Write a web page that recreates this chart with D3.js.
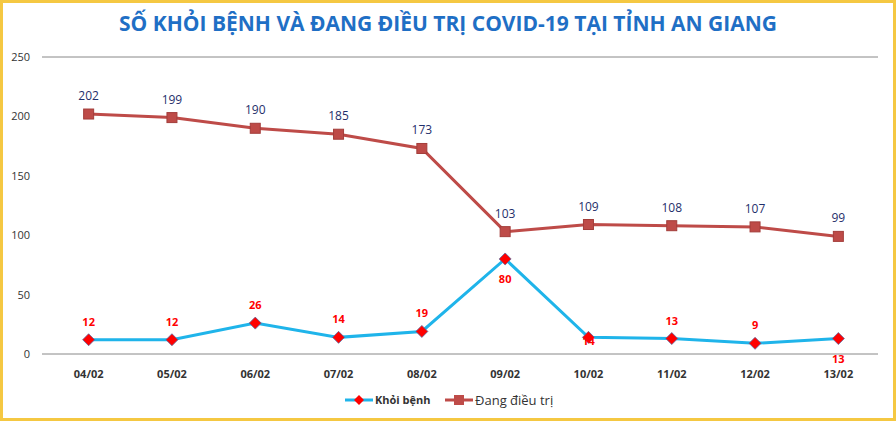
<!DOCTYPE html>
<html><head><meta charset="utf-8">
<script src="https://cdn.jsdelivr.net/npm/d3@7"></script>
<style>body{margin:0;background:#fff;font-family:"Open Sans",sans-serif;}</style>
</head><body><div id="chart"></div>
<script>
var dates = ["04/02","05/02","06/02","07/02","08/02","09/02","10/02","11/02","12/02","13/02"];
var khoiBenh = [12, 12, 26, 14, 19, 80, 14, 13, 9, 13];
var dangDieuTri = [202, 199, 190, 185, 173, 103, 109, 108, 107, 99];
var khoiLabelSide = ["up","up","up","up","up","down","down2","up","up","down"];
var yTicks = [0, 50, 100, 150, 200, 250];

var W = 896, H = 421;
var svg = d3.select("#chart").append("svg").attr("width", W).attr("height", H);

svg.append("rect").attr("x", 1.5).attr("y", 1.5).attr("width", W - 3).attr("height", H - 3)
    .attr("fill", "#fff").attr("stroke", "#f5c842").attr("stroke-width", 3);

svg.append("text").attr("x", 448).attr("y", 31).attr("text-anchor", "middle")
    .attr("font-family", "Liberation Sans Narrow, Open Sans, sans-serif")
    .attr("font-size", "21px").attr("font-weight", "bold").attr("fill", "#1f6fc5")
    .text("SỐ KHỎI BỆNH VÀ ĐANG ĐIỀU TRỊ COVID-19 TẠI TỈNH AN GIANG");

var x = d3.scaleBand().domain(dates).range([47, 880]);
var y = d3.scaleLinear().domain([0, 250]).range([354, 57]);
var cx = function(d, i){ return x(dates[i]) + x.bandwidth() / 2; };

svg.append("line").attr("x1", 42).attr("x2", 878).attr("y1", y(250)).attr("y2", y(250)).attr("stroke", "#888");
svg.append("line").attr("x1", 42).attr("x2", 878).attr("y1", y(0)).attr("y2", y(0)).attr("stroke", "#888");

svg.selectAll(".yt").data(yTicks).enter().append("text")
    .attr("x", 30).attr("y", function(d){ return y(d) + 4; })
    .attr("text-anchor", "end").attr("font-size", "11px").attr("fill", "#333")
    .text(function(d){ return d; });

svg.selectAll(".xt").data(dates).enter().append("text")
    .attr("x", function(d){ return x(d) + x.bandwidth() / 2; }).attr("y", 378)
    .attr("text-anchor", "middle").attr("font-size", "11px").attr("font-weight", "bold").attr("fill", "#333")
    .text(function(d){ return d; });

var line = d3.line().x(cx).y(function(d){ return y(d); });

svg.append("path").datum(dangDieuTri).attr("d", line)
    .attr("fill", "none").attr("stroke", "#be4b48").attr("stroke-width", 3);
svg.selectAll(".sq").data(dangDieuTri).enter().append("rect")
    .attr("x", function(d, i){ return cx(d, i) - 5; }).attr("y", function(d){ return y(d) - 5; })
    .attr("width", 10).attr("height", 10).attr("fill", "#be4b48").attr("stroke", "#a33d3a");
svg.selectAll(".dl").data(dangDieuTri).enter().append("text")
    .attr("x", cx).attr("y", function(d){ return y(d) - 14; })
    .attr("text-anchor", "middle").attr("font-size", "12px").attr("fill", "#1f2f6b")
    .text(function(d){ return d; });

svg.append("path").datum(khoiBenh).attr("d", line)
    .attr("fill", "none").attr("stroke", "#1fb4ea").attr("stroke-width", 3);
var diamond = "M0,-6L6,0L0,6L-6,0Z";
svg.selectAll(".dm").data(khoiBenh).enter().append("path")
    .attr("d", diamond)
    .attr("transform", function(d, i){ return "translate(" + cx(d, i) + "," + y(d) + ")"; })
    .attr("fill", "#ff0000").attr("stroke", "#5a6aa0").attr("stroke-width", 0.8);
svg.selectAll(".kl").data(khoiBenh).enter().append("text")
    .attr("x", cx)
    .attr("y", function(d, i){
        var s = khoiLabelSide[i];
        return s === "up" ? y(d) - 14 : (s === "down2" ? y(d) + 8 : y(d) + 24);
    })
    .attr("text-anchor", "middle").attr("font-size", "11px").attr("font-weight", "bold").attr("fill", "#ff0000")
    .text(function(d){ return d; });

var lg = svg.append("g").attr("transform", "translate(345,400)");
lg.append("line").attr("x1", 0).attr("x2", 28).attr("stroke", "#1fb4ea").attr("stroke-width", 3);
lg.append("path").attr("d", "M0,-5L5,0L0,5L-5,0Z").attr("transform", "translate(14,0)").attr("fill", "#ff0000");
lg.append("text").attr("x", 30).attr("y", 4).attr("font-size", "11px").attr("font-weight", "bold").attr("fill", "#333").text("Khỏi bệnh");
lg.append("line").attr("x1", 100).attr("x2", 128).attr("stroke", "#be4b48").attr("stroke-width", 3);
lg.append("rect").attr("x", 109).attr("y", -5).attr("width", 10).attr("height", 10).attr("fill", "#be4b48");
lg.append("text").attr("x", 130).attr("y", 5).attr("font-size", "13px").attr("fill", "#333").text("Đang điều trị");
</script></body></html>
